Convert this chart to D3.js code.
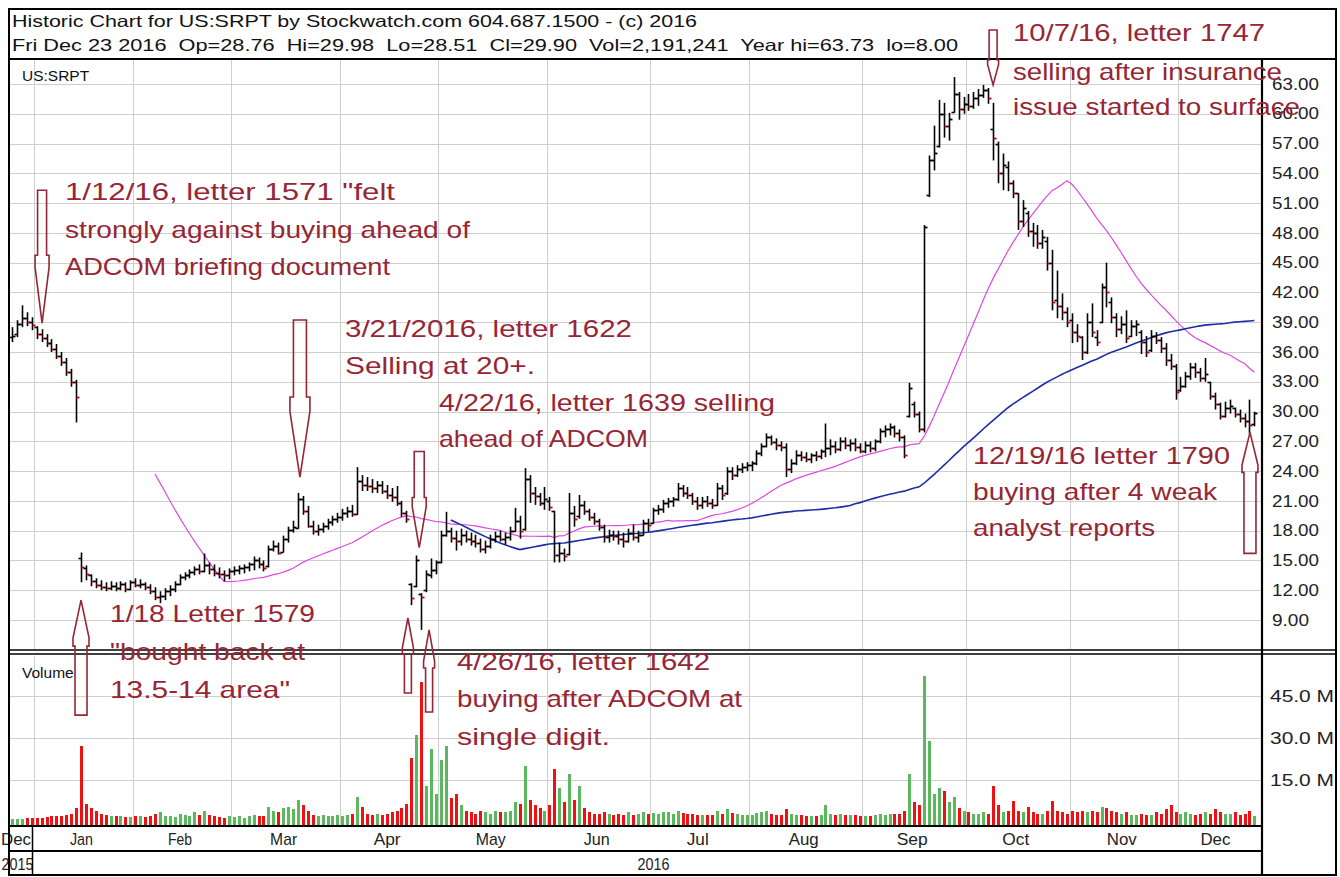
<!DOCTYPE html>
<html>
<head>
<meta charset="utf-8">
<script src="https://d3js.org/d3.v7.min.js"></script>
<style>
html,body{margin:0;padding:0;background:#fff;}
svg{display:block;}
text{font-family:"Liberation Sans",Arial,sans-serif;}
</style>
</head>
<body>
<svg id="chart" width="1340" height="877"></svg>
<script>
// ================= DATA =================
// One bar per trading day, 24 Dec 2015 .. 23 Dec 2016
const opens = [
37.5,37.8,38.8,39.4,39.0,38.5,37.8,37.4,36.9,36.3,
35.6,35.0,34.0,33.0,15.2,14.2,13.5,12.9,12.5,12.3,
12.2,12.4,12.2,12.6,12.1,12.8,12.5,12.6,12.3,11.9,
11.3,11.4,11.9,12.1,12.6,13.3,13.5,13.8,14.1,13.9,
14.5,14.1,13.7,13.6,13.5,13.9,14.0,14.2,14.3,14.6,
15.0,14.6,14.4,16.2,16.5,15.9,17.2,18.1,18.3,21.2,
20.0,18.5,18.0,18.2,18.5,18.9,19.2,19.4,19.8,20.0,
19.7,23.0,22.6,22.5,22.3,22.6,22.0,21.6,21.4,20.8,
19.8,12.6,12.4,11.6,12.0,13.5,14.0,14.8,17.6,18.0,
17.3,17.0,17.6,17.2,17.0,16.8,16.2,16.5,17.2,17.5,
17.2,17.4,18.0,19.0,18.2,23.2,21.8,21.5,20.8,21.0,
20.0,15.5,15.7,15.6,19.8,19.5,20.6,20.0,19.4,19.0,
18.4,17.4,17.6,17.5,17.2,17.0,17.8,17.4,17.6,18.8,
18.8,20.1,20.2,20.8,21.0,21.2,22.3,21.8,21.6,21.0,
20.6,21.0,20.8,20.6,22.3,21.8,24.0,23.6,24.2,24.4,
24.6,24.8,25.8,26.5,27.4,26.9,26.6,26.4,24.2,24.8,
25.6,25.4,25.2,25.6,25.5,26.0,26.3,26.5,26.2,27.0,
26.6,26.8,26.4,26.0,26.6,26.3,27.0,28.0,28.2,28.4,
27.8,27.4,29.6,30.8,29.8,28.2,51.8,55.3,56.8,60.0,
58.8,60.2,62.0,60.5,61.0,60.8,61.6,61.9,62.4,58.5,
57.0,54.0,54.6,53.0,52.0,49.2,50.0,48.2,48.0,47.0,
47.2,45.0,41.2,40.6,40.0,39.2,38.0,37.5,36.0,39.0,
37.5,39.0,42.5,41.0,39.5,38.3,38.8,37.6,38.6,38.0,
37.0,36.2,37.6,37.2,36.4,35.2,34.6,32.2,32.6,33.6,
34.5,34.0,33.4,33.0,31.6,30.8,29.6,30.4,30.4,29.8,
29.4,29.0,28.76];
const highs = [
38.5,39.2,40.7,40.0,39.5,38.6,38.3,37.8,37.3,36.8,
36.0,35.4,34.3,33.2,15.8,14.5,13.6,13.2,13.0,12.8,
12.9,12.8,12.9,12.8,13.0,13.2,13.1,12.8,12.6,12.3,
11.9,12.2,12.5,12.9,13.6,13.8,14.1,14.4,14.6,15.7,
14.8,14.6,14.3,14.0,14.2,14.4,14.5,14.6,14.8,15.4,
15.3,15.0,16.5,17.0,16.8,17.5,18.4,19.0,21.8,21.5,
20.5,19.0,18.6,18.8,19.2,19.5,19.8,20.2,20.4,20.6,
24.4,23.6,23.4,23.2,23.0,23.0,22.6,22.3,22.5,21.0,
20.0,12.7,15.5,11.7,14.0,15.2,15.0,18.0,19.9,18.3,
18.0,18.2,18.0,17.8,17.6,17.2,17.0,17.6,17.9,18.0,
17.8,18.4,20.3,19.5,24.3,23.6,22.4,21.8,22.4,21.4,
20.0,16.8,16.2,21.8,20.5,21.6,21.0,20.2,19.8,19.2,
18.6,18.1,18.0,18.0,17.8,18.2,18.6,18.0,19.1,19.2,
20.3,20.6,21.1,21.3,21.4,22.8,22.6,22.4,21.8,21.4,
21.4,21.5,21.2,22.8,22.6,24.4,24.4,24.6,24.8,24.9,
25.0,26.1,26.8,27.8,27.6,27.3,27.0,26.8,25.2,26.1,
26.0,25.9,25.8,26.0,26.2,28.8,27.2,27.0,27.4,27.4,
27.2,27.3,26.8,27.0,27.0,27.2,28.3,28.6,28.8,28.6,
28.2,27.6,32.9,31.0,30.0,48.8,55.8,58.8,61.4,61.1,
60.1,63.7,62.2,61.7,62.0,62.2,62.5,62.9,62.6,61.1,
57.2,56.0,55.2,53.3,52.0,51.3,50.2,49.0,48.8,48.3,
47.6,46.3,44.2,41.9,40.5,39.9,38.8,37.6,39.9,40.9,
38.2,42.9,45.0,41.5,39.9,39.6,40.2,39.2,39.2,38.2,
37.6,38.2,38.0,37.5,36.9,35.8,34.8,33.5,34.0,34.9,
34.9,34.4,35.4,33.0,31.9,30.9,31.0,31.2,30.4,30.2,
29.8,31.2,29.98];
const lows = [
37.0,37.5,38.5,38.6,38.2,37.3,37.0,36.5,36.0,35.3,
34.6,33.6,32.5,28.9,12.8,13.0,12.4,12.2,12.0,11.9,
12.0,11.9,12.0,11.8,12.0,12.3,12.2,12.0,11.6,11.0,
10.7,11.0,11.4,11.8,12.5,13.0,13.2,13.5,13.6,13.8,
13.6,13.4,13.2,12.9,13.1,13.5,13.6,13.7,13.9,14.0,
14.2,13.9,14.3,15.9,15.6,15.8,16.8,17.8,18.2,19.6,
18.3,17.6,17.5,17.8,18.1,18.5,18.8,19.0,19.3,19.4,
19.6,22.0,22.0,21.8,21.8,21.7,21.2,20.9,20.5,19.4,
18.8,10.5,12.3,8.0,11.8,13.2,13.6,14.7,17.4,16.8,
16.0,16.5,16.8,16.5,16.3,15.8,15.7,16.2,16.8,16.9,
16.6,17.0,17.9,17.2,18.0,20.8,20.6,20.5,20.1,20.0,
14.8,14.8,14.9,15.5,18.4,19.2,19.6,19.0,18.6,18.0,
16.8,16.8,17.0,16.6,16.3,16.8,17.0,16.8,17.5,17.9,
18.7,19.6,19.8,20.3,20.4,21.0,21.4,21.2,20.6,20.1,
20.2,20.4,20.2,20.5,21.1,21.6,23.1,23.4,23.8,24.0,
24.0,24.6,25.5,26.4,26.6,26.1,26.0,23.4,23.8,24.6,
25.0,24.9,24.8,25.0,25.2,25.4,25.6,25.8,26.0,26.2,
26.0,26.0,25.8,25.8,25.9,26.0,26.8,27.4,27.6,27.4,
27.0,25.3,29.4,29.4,27.9,27.9,51.6,54.3,56.6,57.6,
57.3,60.1,59.4,60.0,60.3,60.5,60.8,61.6,61.0,55.3,
53.0,52.3,52.2,51.5,48.3,48.6,47.6,46.6,46.4,46.4,
44.2,40.2,39.4,39.2,38.5,36.9,37.0,35.2,35.8,37.5,
36.6,38.9,40.5,38.9,37.5,37.8,36.9,37.5,37.6,35.8,
35.5,36.0,36.8,35.9,34.6,34.2,31.2,32.0,32.4,33.2,
33.4,33.0,33.0,31.2,30.2,29.2,29.4,29.8,29.4,28.9,
28.4,27.8,28.51];
const closes = [
37.6,38.8,39.4,39.0,38.7,37.8,37.4,36.9,36.3,35.6,
35.0,34.0,33.0,31.5,14.3,13.6,12.9,12.5,12.3,12.2,
12.4,12.2,12.6,12.1,12.8,12.5,12.6,12.3,11.9,11.3,
11.4,11.9,12.1,12.6,13.3,13.5,13.8,14.1,13.9,14.5,
14.1,13.7,13.6,13.5,13.9,14.0,14.2,14.3,14.6,15.0,
14.6,14.2,16.2,16.5,15.8,17.2,18.1,18.4,21.2,20.0,
18.5,18.0,18.2,18.5,18.9,19.2,19.4,19.8,20.0,19.7,
23.0,22.6,22.5,22.3,22.6,22.0,21.6,21.4,20.8,19.8,
19.2,11.2,15.0,11.3,13.6,14.0,14.8,17.6,18.0,17.3,
17.0,17.6,17.2,17.0,16.8,16.2,16.5,17.2,17.5,17.2,
17.4,18.0,19.0,18.0,23.2,21.8,21.5,20.8,21.2,20.4,
15.5,15.7,15.4,19.8,19.2,20.6,20.0,19.4,19.0,18.4,
17.4,17.6,17.5,17.2,17.0,17.8,17.4,17.6,18.8,18.6,
20.1,20.2,20.8,21.0,21.2,22.3,21.8,21.6,21.0,20.6,
21.0,20.8,20.6,22.3,21.6,24.0,23.6,24.2,24.4,24.6,
24.8,25.8,26.5,27.4,26.9,26.6,26.4,24.2,24.8,25.6,
25.4,25.2,25.6,25.5,26.0,26.3,26.5,26.2,27.0,26.6,
26.8,26.4,26.0,26.6,26.3,27.0,28.0,28.2,28.4,27.8,
27.4,25.6,32.4,29.8,28.2,48.6,55.3,56.0,60.0,58.8,
59.5,62.0,60.5,61.0,60.8,61.6,61.9,62.4,61.6,57.6,
54.0,54.8,53.0,52.0,49.2,50.5,48.2,48.0,47.0,47.6,
45.0,41.0,40.6,40.0,39.0,38.0,37.6,36.0,39.0,38.0,
37.0,42.5,42.0,39.5,38.3,38.8,37.4,38.6,38.8,37.0,
36.0,37.6,37.2,36.4,35.2,34.6,32.0,32.6,33.6,34.5,
34.0,33.4,33.8,31.6,30.8,29.6,30.4,30.6,29.8,29.4,
29.0,28.6,29.90];
// volume, millions of shares
const volumes = [
1.0,1.2,1.0,1.3,1.5,
1.5,1.6,1.8,2.0,2.2,2.0,2.5,3.0,5.0,
27,
6.5,5,4,3,2.5,2.2,2,2,1.8,
1.8,2.0,2.2,1.8,2.0,3.0,3.5,2.2,2.0,1.8,
3.0,2.4,2.0,3.5,2.4,4.0,2.5,2.0,1.8,1.6,
2.0,1.8,2.2,1.6,2.0,2.5,2.2,2.0,5.5,4.0,
3.5,5.0,5.5,4.5,8.0,6.0,4.0,2.5,2.0,2.5,
2.0,2.2,2.5,2.0,2.5,3.0,9.0,5.5,3.0,2.5,
2.8,2.5,3.0,3.5,4.0,5.0,6.5,23,31,50,
13,26,10,22,27,8.6,10,6,4,3.5,
3,4,3.5,3,4,3.5,3.5,4,7,6.5,
20,8,6,5,4,6,19,12,7,17,
8,13,5,3.5,3,3,3.5,2.8,2.5,3,
2.5,3.5,2.5,3,3.5,2.8,3.2,3.0,3.5,3.5,
3.0,3.8,3.2,3.0,2.8,2.5,2.6,2.4,2.6,3.8,
2.8,4.5,3.2,2.8,2.5,2.4,2.5,3.2,3.5,4.0,
3.0,2.6,2.5,4.5,2.8,2.6,2.4,2.2,2.3,2.0,
2.4,6.0,3.0,2.6,2.8,2.6,2.4,2.5,2.0,2.0,
2.2,2.4,3.0,2.6,3.0,2.8,3.0,4.0,17,7,
6,52,29,10,12,11,7,9,5,4,
3.5,3,3,3.5,3,13,6,3.5,4,7.5,
4,3.5,5.5,3.5,3,3,4,7.5,4,3.5,
3,4,3.5,4,3.5,4,3.5,5.5,5,4,
3.5,3,3.5,2.5,2.5,3,2.5,2.5,3.5,3.0,
4.5,6,3.5,3,3.5,2.8,2.6,2.8,3.6,3.0,
4.5,3.5,3.0,2.8,3.5,2.5,3.0,4.0,2.19];

const priceTicks = [9,12,15,18,21,24,27,30,33,36,39,42,45,48,51,54,57,60,63];
const volumeTicks = [15,30,45];
const monthNames = ["Dec","Jan","Feb","Mar","Apr","May","Jun","Jul","Aug","Sep","Oct","Nov","Dec"];
const monthStarts = [-3,5,25,45,67,87,109,130,150,173,194,215,237]; // bar index of first day
const yearNames = ["2015","2016"];
const yearStarts = [-5,5];
const maPeriods = [30, 90];

const headerLine1 = "Historic Chart for US:SRPT by Stockwatch.com 604.687.1500 - (c) 2016";
const headerLine2 = "Fri Dec 23 2016  Op=28.76  Hi=29.98  Lo=28.51  Cl=29.90  Vol=2,191,241  Year hi=63.73  lo=8.00";

// annotation notes (text) and arrows (anchored to bar index / price)
const notes = [
 {t:'1/12/16, letter 1571 "felt', x:65, y:200, w:330},
 {t:'strongly against buying ahead of', x:65, y:238, w:405},
 {t:'ADCOM briefing document', x:65, y:275, w:325},
 {t:'3/21/2016, letter 1622', x:345, y:337, w:287},
 {t:'Selling at 20+.', x:345, y:374, w:190},
 {t:'4/22/16, letter 1639 selling', x:439, y:411, w:336},
 {t:'ahead of ADCOM', x:439, y:447, w:209},
 {t:'1/18 Letter 1579', x:110, y:622, w:205},
 {t:'"bought back at', x:110, y:660, w:195},
 {t:'13.5-14 area"', x:110, y:698, w:180},
 {t:'4/26/16, letter 1642', x:457, y:670, w:253},
 {t:'buying after ADCOM at', x:457, y:707, w:285},
 {t:'single digit.', x:457, y:745, w:153},
 {t:'10/7/16, letter 1747', x:1013, y:41, w:252},
 {t:'selling after insurance', x:1013, y:80, w:269},
 {t:'issue started to surface', x:1013, y:115, w:287},
 {t:'12/19/16 letter 1790', x:973, y:464, w:257},
 {t:'buying after 4 weak', x:973, y:500, w:244},
 {t:'analyst reports', x:973, y:536, w:182}
];
const arrows = [
 {i:6.1,  p:38.9, dir:1,  len:133, head:68, sw:9,  hw:14},
 {i:58.4, p:23.4, dir:1,  len:157, head:80, sw:13, hw:20},
 {i:14.0, p:11.0, dir:-1, len:115, head:46, sw:12, hw:16},
 {i:82.6, p:16.3, dir:1,  len:96,  head:50, sw:10, hw:14},
 {i:80.3, p:9.2,  dir:-1, len:75,  head:36, sw:7,  hw:11},
 {i:84.6, p:8.0,  dir:-1, len:82,  head:38, sw:7,  hw:11},
 {i:199,  p:62.9, dir:1,  len:55,  head:25, sw:8,  hw:11},
 {i:251.1,p:27.9, dir:-1, len:121, head:40, sw:12, hw:16}
];

// ================= LAYOUT =================
const L = 9, R = 1262, RO = 1336, TOP = 9, BOT = 875;
const HDR = 59, PB = 650, VT = 655, VB = 826, MB = 851;
const n = closes.length;
const svg = d3.select("#chart");

const x = d3.scaleLinear().domain([0, n-1]).range([12, 1254.4]);
const step = x(1) - x(0);
const y = d3.scaleLinear().domain([9, 63]).range([620, 84]);
const yv = d3.scaleLinear().domain([0, 45]).range([822, 696]);

const defs = svg.append("defs");
defs.append("clipPath").attr("id","cp").append("rect").attr("x",L+1).attr("y",HDR+1).attr("width",R-L-2).attr("height",PB-HDR-2);
defs.append("clipPath").attr("id","cv").append("rect").attr("x",L+1).attr("y",VT+1).attr("width",R-L-2).attr("height",VB-VT-2);
defs.append("clipPath").attr("id","ca").append("rect").attr("x",0).attr("y",VB).attr("width",R).attr("height",BOT-VB);

svg.append("rect").attr("width",1340).attr("height",877).attr("fill","#fff");

const gridCol = "#cfcfcf";
// price grid
const pg = svg.append("g").attr("clip-path","url(#cp)");
pg.selectAll("line.h").data(priceTicks).join("line")
  .attr("x1",L).attr("x2",R).attr("y1",d=>Math.round(y(d))+0.5).attr("y2",d=>Math.round(y(d))+0.5)
  .attr("stroke",gridCol).attr("stroke-width",1);
const monthBoundaryX = s => Math.round(x(s) - step/2) + 0.5;
pg.selectAll("line.v").data(monthStarts.slice(1)).join("line")
  .attr("x1",monthBoundaryX).attr("x2",monthBoundaryX).attr("y1",HDR).attr("y2",PB)
  .attr("stroke",gridCol);
// volume grid
const vg = svg.append("g").attr("clip-path","url(#cv)");
vg.selectAll("line.h").data(volumeTicks).join("line")
  .attr("x1",L).attr("x2",R).attr("y1",d=>Math.round(yv(d))+0.5).attr("y2",d=>Math.round(yv(d))+0.5)
  .attr("stroke",gridCol);
vg.selectAll("line.v").data(monthStarts.slice(1)).join("line")
  .attr("x1",monthBoundaryX).attr("x2",monthBoundaryX).attr("y1",VT).attr("y2",VB)
  .attr("stroke",gridCol);

// volume bars
vg.selectAll("rect.vol").data(d3.range(n)).join("rect")
  .attr("x", i => Math.round(x(i)) - 1)
  .attr("width", 3)
  .attr("y", i => yv(volumes[i]))
  .attr("height", i => yv(0) - yv(volumes[i]) + 3)
  .attr("fill", i => (i === 0 ? closes[i] >= opens[i] : closes[i] >= closes[i-1]) ? "#5cb85c" : "#ee1111")
  .attr("shape-rendering","crispEdges");

// moving averages
const sma = p => closes.map((c,i) => i < p-1 ? null : d3.mean(closes.slice(i-p+1, i+1)));
const maColors = ["#e048e0", "#1c2ea8"];
const maWidths = [1.2, 1.6];
maPeriods.forEach((p, k) => {
  const vals = sma(p);
  const line = d3.line().defined(d => d != null).x((d,i) => x(i)).y(d => y(d)).curve(d3.curveLinear);
  pg.append("path").datum(vals).attr("d", line).attr("fill","none")
    .attr("stroke", maColors[k]).attr("stroke-width", maWidths[k]);
});

// OHLC bars
const bars = pg.selectAll("g.bar").data(d3.range(n)).join("g");
const bx = i => Math.round(x(i)) + 0.5;
bars.append("line").attr("x1",bx).attr("x2",bx)
  .attr("y1", i => y(highs[i])).attr("y2", i => y(lows[i]))
  .attr("stroke","#000").attr("stroke-width",1.6);
bars.append("line").attr("x1", i => bx(i) - 3).attr("x2", bx)
  .attr("y1", i => Math.round(y(opens[i]))+0.5).attr("y2", i => Math.round(y(opens[i]))+0.5)
  .attr("stroke","#000").attr("stroke-width",1.6);
bars.append("line").attr("x1", bx).attr("x2", i => bx(i) + 3)
  .attr("y1", i => Math.round(y(closes[i]))+0.5).attr("y2", i => Math.round(y(closes[i]))+0.5)
  .attr("stroke", i => closes[i] < opens[i] ? "#cc0000" : "#000").attr("stroke-width",1.8);

// ================= AXES =================
const axP = svg.append("g").attr("transform",`translate(${R},0)`)
  .call(d3.axisRight(y).tickValues(priceTicks).tickFormat(d3.format(".2f")).tickSize(0).tickPadding(10));
axP.select(".domain").remove();
axP.selectAll("text").attr("font-size",16).attr("fill","#222")
  .attr("font-family","Liberation Sans, Arial, sans-serif")
  .attr("textLength", d => d >= 10 ? 47 : 37).attr("lengthAdjust","spacingAndGlyphs");

const axV = svg.append("g").attr("transform",`translate(${R},0)`)
  .call(d3.axisRight(yv).tickValues(volumeTicks).tickFormat(d => d.toFixed(1) + " M").tickSize(0).tickPadding(8));
axV.select(".domain").remove();
axV.selectAll("text").attr("font-size",16).attr("fill","#222")
  .attr("font-family","Liberation Sans, Arial, sans-serif")
  .attr("textLength",64).attr("lengthAdjust","spacingAndGlyphs");

// month + year labels
const ag = svg.append("g").attr("clip-path","url(#ca)");
const ends = monthStarts.slice(1).concat([n]);
const mW = {Jan:23,Feb:24,Mar:27,Apr:27,May:30,Jun:26,Jul:22,Aug:30,Sep:31,Oct:27,Nov:30,Dec:30};
ag.selectAll("text.m").data(monthNames).join("text")
  .attr("x", (d,k) => Math.max(1 + mW[d]/2, (x(monthStarts[k]) + x(ends[k]))/2 - step/2 - 2))
  .attr("y", 845).attr("text-anchor","middle").attr("font-size",17).attr("fill","#222")
  .attr("textLength", d => mW[d])
  .attr("lengthAdjust","spacingAndGlyphs")
  .text(d => d);
const yEnds = [yearStarts[1], n];
ag.selectAll("text.y").data(yearNames).join("text")
  .attr("x", (d,k) => Math.max(17, (x(yearStarts[k]) + x(yEnds[k]))/2 - step/2 + 8))
  .attr("y", 870).attr("text-anchor","middle").attr("font-size",17).attr("fill","#222")
  .attr("textLength",32).attr("lengthAdjust","spacingAndGlyphs")
  .text(d => d);
// year divider
svg.append("line").attr("x1",monthBoundaryX(yearStarts[1]) - 2).attr("x2",monthBoundaryX(yearStarts[1]) - 2)
  .attr("y1",VB).attr("y2",BOT).attr("stroke","#000").attr("stroke-width",1.5);

// ================= FRAME =================
const frame = svg.append("g").attr("stroke","#000").attr("fill","none");
frame.append("rect").attr("x",L).attr("y",TOP).attr("width",RO-L).attr("height",BOT-TOP).attr("stroke-width",2);
frame.append("line").attr("x1",L).attr("x2",RO).attr("y1",HDR).attr("y2",HDR).attr("stroke-width",2.2);
frame.append("line").attr("x1",R).attr("x2",R).attr("y1",HDR).attr("y2",BOT).attr("stroke-width",2.2);
frame.append("line").attr("x1",L).attr("x2",RO).attr("y1",PB).attr("y2",PB).attr("stroke-width",1.3);
frame.append("line").attr("x1",L).attr("x2",RO).attr("y1",PB+4).attr("y2",PB+4).attr("stroke-width",1.3);
frame.append("line").attr("x1",L).attr("x2",R).attr("y1",VB).attr("y2",VB).attr("stroke-width",2.2);
frame.append("line").attr("x1",L).attr("x2",R).attr("y1",MB).attr("y2",MB).attr("stroke-width",2.2);

// header texts
svg.append("text").attr("x",12).attr("y",27).attr("font-size",16.5).attr("fill","#111")
  .attr("textLength",685).attr("lengthAdjust","spacingAndGlyphs").text(headerLine1);
svg.append("text").attr("x",12).attr("y",51).attr("font-size",16.5).attr("fill","#111")
  .style("white-space","pre")
  .attr("textLength",946).attr("lengthAdjust","spacingAndGlyphs").text(headerLine2);
svg.append("text").attr("x",22).attr("y",81).attr("font-size",15.5).attr("fill","#111").text("US:SRPT");
svg.append("text").attr("x",22).attr("y",678).attr("font-size",15.5).attr("fill","#111").text("Volume");

// ================= ANNOTATIONS =================
const noteCol = "#972634";
function arrowPath(tx, ty, dir, len, head, sw, hw) {
  const base = ty - dir*len, sh = ty - dir*head, sh2 = ty - dir*head*0.82;
  return `M${tx-sw/2},${base}L${tx+sw/2},${base}L${tx+sw/2},${sh}L${tx+hw/2},${sh}L${tx+hw/2},${sh2}` +
         `L${tx},${ty}L${tx-hw/2},${sh2}L${tx-hw/2},${sh}L${tx-sw/2},${sh}Z`;
}
svg.append("g").selectAll("path").data(arrows).join("path")
  .attr("d", a => arrowPath(x(a.i), y(a.p), a.dir, a.len, a.head, a.sw, a.hw))
  .attr("fill","none").attr("stroke",noteCol).attr("stroke-width",1.6).attr("stroke-linejoin","miter");

svg.append("g").selectAll("text").data(notes).join("text")
  .attr("x", d => d.x).attr("y", d => d.y)
  .attr("font-family","Lato, 'Open Sans', sans-serif").attr("font-size",24).attr("fill",noteCol)
  .attr("textLength", d => d.w).attr("lengthAdjust","spacingAndGlyphs")
  .text(d => d.t);
</script>
</body>
</html>
